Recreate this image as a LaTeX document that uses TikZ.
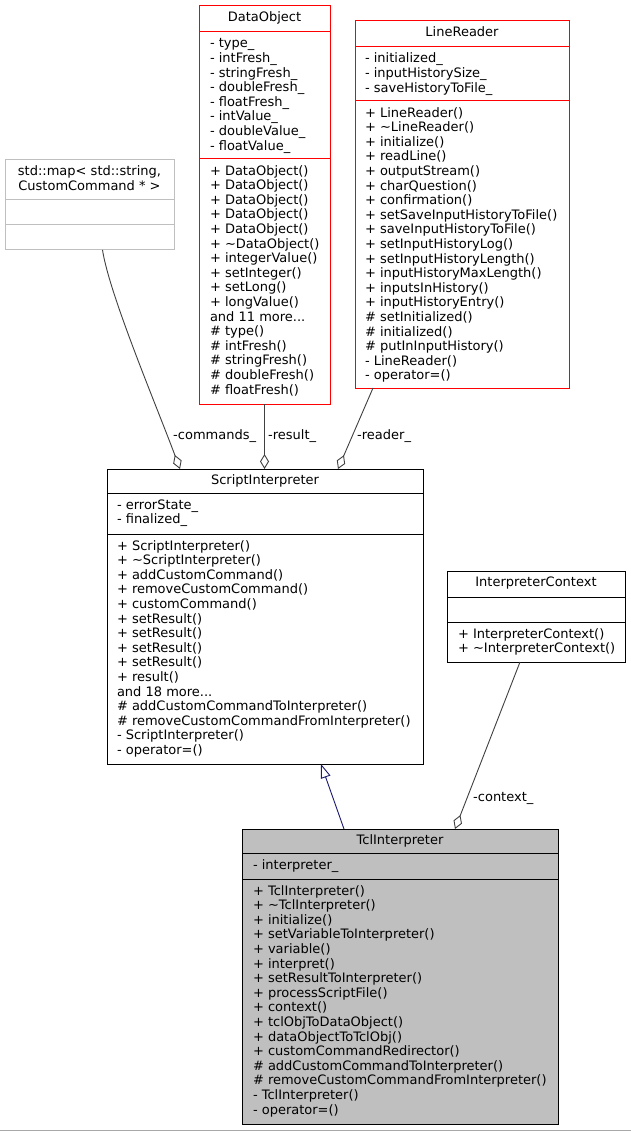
\documentclass[tikz,border=0pt]{standalone}
\usepackage{fontspec}
\setmainfont{DejaVu Sans}
\usetikzlibrary{arrows.meta}
\definecolor{edgegray}{HTML}{404040}
\definecolor{extgray}{HTML}{BFBFBF}
\definecolor{fillgray}{HTML}{BFBFBF}
\definecolor{inhblue}{HTML}{191970}
\definecolor{rulegray}{HTML}{A8A8A8}
\definecolor{boxred}{HTML}{FF0000}
\begin{document}
\begin{tikzpicture}[x=1pt,y=-1pt,
  classbox/.style={draw, line width=1pt, inner sep=0pt, outer sep=0pt, anchor=north west, fill=white},
  seprule/.style={line width=1pt},
  mtext/.style={font=\fontsize{13}{14.6}\selectfont, inner sep=0pt, outer sep=0pt, align=left, anchor=north west, yshift=-1pt},
  ttext/.style={font=\fontsize{13}{14.6}\selectfont, inner sep=0pt, outer sep=0pt, align=center, anchor=north},
  elabel/.style={font=\fontsize{13}{14.6}\selectfont, inner sep=0pt, anchor=base west},
  aggr/.style={draw=edgegray, line width=0.9pt, -{Diamond[length=15pt,width=9pt,fill=white]}},
  inherit/.style={draw=inhblue, line width=0.9pt, -{Triangle[length=14pt,width=10pt,fill=white]}}
]
\useasboundingbox (0,0) rectangle (631,1131);
\fill[white] (0,0) rectangle (631,1131);

% std::map
\node[classbox, draw=extgray, minimum width=169pt, minimum height=90pt] (map) at (5,160) {};
\draw[seprule, extgray] (map.west |- 0,200) -- (map.east |- 0,200);
\draw[seprule, extgray] (map.west |- 0,225) -- (map.east |- 0,225);
\node[ttext] (map-t) at (89.5,165.3) {\strut std::map< std::string,\\\strut CustomCommand * >};

% DataObject
\node[classbox, draw=boxred, minimum width=131pt, minimum height=398pt] (dobj) at (199,6) {};
\draw[seprule, boxred] (dobj.west |- 0,32) -- (dobj.east |- 0,32);
\draw[seprule, boxred] (dobj.west |- 0,159) -- (dobj.east |- 0,159);
\node[ttext] (dobj-t) at (264.5,11.3) {\strut DataObject};
\node[mtext] (dobj-a) at (210,36.78) {\strut - type\_\\\strut - intFresh\_\\\strut - stringFresh\_\\\strut - doubleFresh\_\\\strut - floatFresh\_\\\strut - intValue\_\\\strut - doubleValue\_\\\strut - floatValue\_};
\node[mtext] (dobj-m) at (210,163.78) {\strut + DataObject()\\\strut + DataObject()\\\strut + DataObject()\\\strut + DataObject()\\\strut + DataObject()\\\strut + \textasciitilde DataObject()\\\strut + integerValue()\\\strut + setInteger()\\\strut + setLong()\\\strut + longValue()\\\strut and 11 more...\\\strut \# type()\\\strut \# intFresh()\\\strut \# stringFresh()\\\strut \# doubleFresh()\\\strut \# floatFresh()};

% LineReader
\node[classbox, draw=boxred, minimum width=214pt, minimum height=367pt] (lr) at (355,21) {};
\draw[seprule, boxred] (lr.west |- 0,47) -- (lr.east |- 0,47);
\draw[seprule, boxred] (lr.west |- 0,101) -- (lr.east |- 0,101);
\node[ttext] (lr-t) at (462,26.3) {\strut LineReader};
\node[mtext] (lr-a) at (365,51.78) {\strut - initialized\_\\\strut - inputHistorySize\_\\\strut - saveHistoryToFile\_};
\node[mtext] (lr-m) at (365,105.78) {\strut + LineReader()\\\strut + \textasciitilde LineReader()\\\strut + initialize()\\\strut + readLine()\\\strut + outputStream()\\\strut + charQuestion()\\\strut + confirmation()\\\strut + setSaveInputHistoryToFile()\\\strut + saveInputHistoryToFile()\\\strut + setInputHistoryLog()\\\strut + setInputHistoryLength()\\\strut + inputHistoryMaxLength()\\\strut + inputsInHistory()\\\strut + inputHistoryEntry()\\\strut \# setInitialized()\\\strut \# initialized()\\\strut \# putInInputHistory()\\\strut - LineReader()\\\strut - operator=()};

% ScriptInterpreter
\node[classbox, draw=black, minimum width=316pt, minimum height=295pt] (si) at (107,469) {};
\draw[seprule] (si.west |- 0,493) -- (si.east |- 0,493);
\draw[seprule] (si.west |- 0,534) -- (si.east |- 0,534);
\node[ttext] (si-t) at (265,474.3) {\strut ScriptInterpreter};
\node[mtext] (si-a) at (117,497.78) {\strut - errorState\_\\\strut - finalized\_};
\node[mtext] (si-m) at (117,538.78) {\strut + ScriptInterpreter()\\\strut + \textasciitilde ScriptInterpreter()\\\strut + addCustomCommand()\\\strut + removeCustomCommand()\\\strut + customCommand()\\\strut + setResult()\\\strut + setResult()\\\strut + setResult()\\\strut + setResult()\\\strut + result()\\\strut and 18 more...\\\strut \# addCustomCommandToInterpreter()\\\strut \# removeCustomCommandFromInterpreter()\\\strut - ScriptInterpreter()\\\strut - operator=()};

% InterpreterContext
\node[classbox, draw=black, minimum width=178pt, minimum height=91pt] (ic) at (447,571) {};
\draw[seprule] (ic.west |- 0,597) -- (ic.east |- 0,597);
\draw[seprule] (ic.west |- 0,622) -- (ic.east |- 0,622);
\node[ttext] (ic-t) at (536,576.3) {\strut InterpreterContext};
\node[mtext] (ic-m) at (458,626.78) {\strut + InterpreterContext()\\\strut + \textasciitilde InterpreterContext()};

% TclInterpreter
\node[classbox, draw=black, fill=fillgray, minimum width=316pt, minimum height=295pt] (tcl) at (242,829) {};
\draw[seprule] (tcl.west |- 0,853) -- (tcl.east |- 0,853);
\draw[seprule] (tcl.west |- 0,879) -- (tcl.east |- 0,879);
\node[ttext] (tcl-t) at (400,834.3) {\strut TclInterpreter};
\node[mtext] (tcl-a) at (253,857.78) {\strut - interpreter\_};
\node[mtext] (tcl-m) at (253,883.78) {\strut + TclInterpreter()\\\strut + \textasciitilde TclInterpreter()\\\strut + initialize()\\\strut + setVariableToInterpreter()\\\strut + variable()\\\strut + interpret()\\\strut + setResultToInterpreter()\\\strut + processScriptFile()\\\strut + context()\\\strut + tclObjToDataObject()\\\strut + dataObjectToTclObj()\\\strut + customCommandRedirector()\\\strut \# addCustomCommandToInterpreter()\\\strut \# removeCustomCommandFromInterpreter()\\\strut - TclInterpreter()\\\strut - operator=()};

% connectors
\draw[aggr] ([xshift=13pt]map.south) .. controls ([xshift=20pt,yshift=-45pt]map.south) and ([xshift=-108pt,yshift=62pt]si.north) .. ([xshift=-85pt]si.north);
\draw[aggr] (dobj.south) -- (dobj.south |- si.north);
\draw[aggr] ([xshift=-89pt]lr.south) -- ([xshift=73pt]si.north);
\draw[aggr] ([xshift=-16pt]ic.south) -- ([xshift=55pt]tcl.north);
\draw[inherit] ([xshift=-56pt]tcl.north) -- ([xshift=56pt]si.south);

% labels
\node[elabel] (l-cmd) at (173,439.5) {-commands\_};
\node[elabel] (l-res) at (268,439.5) {-result\_};
\node[elabel] (l-rdr) at (357,439.5) {-reader\_};
\node[elabel] (l-ctx) at (473,801) {-context\_};

% bottom rule
\draw[rulegray, line width=1pt] (0,1130) -- (631,1130);
\end{tikzpicture}
\end{document}
